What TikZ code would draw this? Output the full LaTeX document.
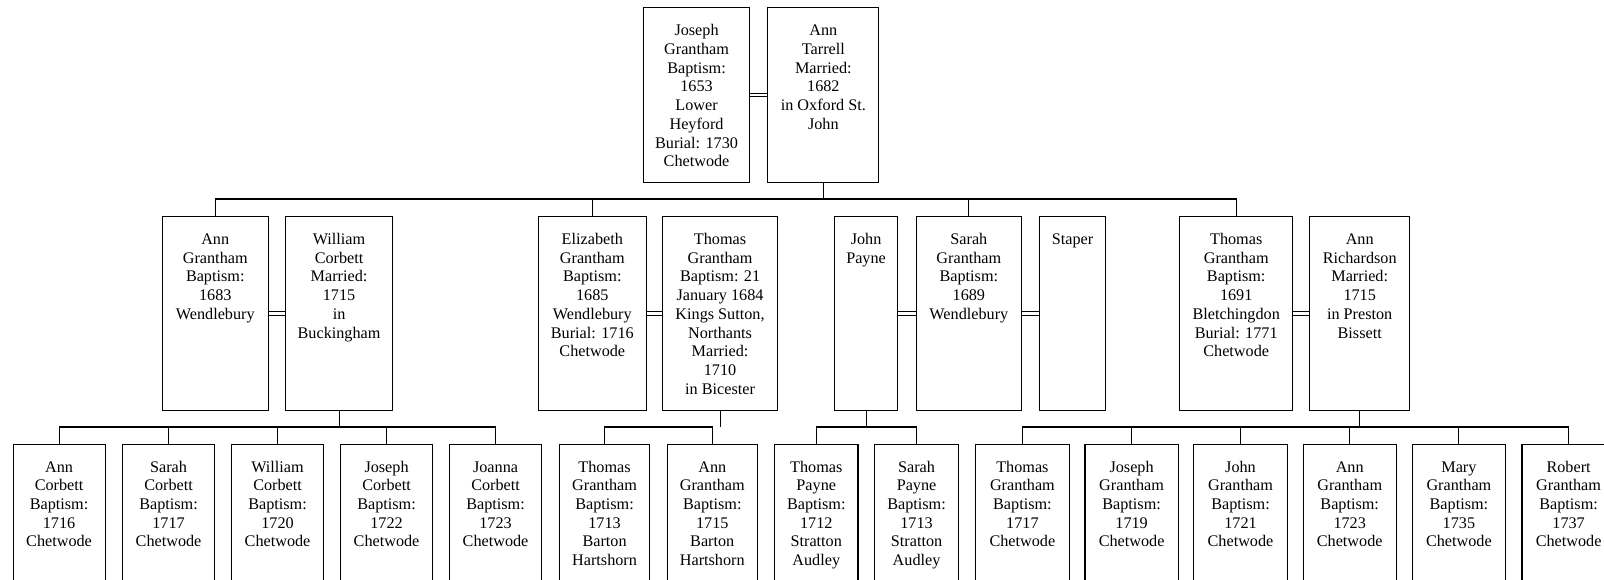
\documentclass[tikz,border=0pt]{standalone}
\usepackage{fontspec}
\setmainfont{Liberation Serif}

\tikzset{
  person/.style={draw, line width=1.1pt, inner sep=0pt, anchor=north west,
                 font=\fontsize{16.2}{18.7}\selectfont},
  link/.style={line width=1.1pt},
}

% person box: name, left, top, width, height, text (top-aligned, centred)
\newcommand{\famnode}[6]{%
  \node[person] (#1) at (#2,#3)
    {\parbox[c][#5pt][t]{#4pt}{\centering\vspace*{14.9pt}\strut #6}};}

% marriage link: double horizontal line between two boxes
\newcommand{\wed}[2]{%
  \draw[link] ([yshift=1.75pt]#1.east) -- ([yshift=1.75pt]#2.west)
              ([yshift=-1.75pt]#1.east) -- ([yshift=-1.75pt]#2.west);}

\begin{document}
\begin{tikzpicture}[x=1pt,y=-1pt]
\useasboundingbox (0,0) rectangle (1604,580);
\fill[white] (0,0) rectangle (1604,580);
\clip (0,0) rectangle (1604,580);

% generation 1
\famnode{jg}{642.7}{7.3}{106.6}{174.7}{Joseph\\Grantham\\Baptism:\\1653\\Lower\\Heyford\\Burial: 1730\\Chetwode}
\famnode{at}{767.3}{7.3}{111}{174.7}{Ann\\Tarrell\\Married:\\1682\\in Oxford St.\\John}
\wed{jg}{at}

% generation 2
\famnode{ag}{161.7}{216}{106}{194}{Ann\\Grantham\\Baptism:\\1683\\Wendlebury}
\famnode{wc}{284.7}{216}{107.6}{194}{William\\Corbett\\Married:\\1715\\in\\Buckingham}
\famnode{eg}{538}{216}{107.5}{194}{Elizabeth\\Grantham\\Baptism:\\1685\\Wendlebury\\Burial: 1716\\Chetwode}
\famnode{tga}{662}{216}{115}{194}{Thomas\\Grantham\\Baptism: 21\\January 1684\\Kings Sutton,\\Northants\\Married:\\1710\\in Bicester}
\famnode{jp}{834}{216}{63}{194}{John\\Payne}
\famnode{sg}{915.6}{216}{105.4}{194}{Sarah\\Grantham\\Baptism:\\1689\\Wendlebury}
\famnode{st}{1039}{216}{66}{194}{Staper}
\famnode{tgb}{1179.3}{216}{112.7}{194}{Thomas\\Grantham\\Baptism:\\1691\\Bletchingdon\\Burial: 1771\\Chetwode}
\famnode{ar}{1309.3}{216}{99.7}{194}{Ann\\Richardson\\Married:\\1715\\in Preston\\Bissett}
\wed{ag}{wc}
\wed{eg}{tga}
\wed{jp}{sg}
\wed{sg}{st}
\wed{tgb}{ar}

% generation 3
\famnode{c1}{12.5}{443.5}{92}{150}{Ann\\Corbett\\Baptism:\\1716\\Chetwode}
\famnode{c2}{122}{443.5}{92}{150}{Sarah\\Corbett\\Baptism:\\1717\\Chetwode}
\famnode{c3}{231}{443.5}{92}{150}{William\\Corbett\\Baptism:\\1720\\Chetwode}
\famnode{c4}{340}{443.5}{92}{150}{Joseph\\Corbett\\Baptism:\\1722\\Chetwode}
\famnode{c5}{449}{443.5}{92}{150}{Joanna\\Corbett\\Baptism:\\1723\\Chetwode}
\famnode{g1}{559}{443.5}{90}{150}{Thomas\\Grantham\\Baptism:\\1713\\Barton\\Hartshorn}
\famnode{g2}{666.7}{443.5}{90}{150}{Ann\\Grantham\\Baptism:\\1715\\Barton\\Hartshorn}
\famnode{p1}{774}{443.5}{83.4}{150}{Thomas\\Payne\\Baptism:\\1712\\Stratton\\Audley}
\famnode{p2}{874.3}{443.5}{83.4}{150}{Sarah\\Payne\\Baptism:\\1713\\Stratton\\Audley}
\famnode{h1}{975.2}{443.5}{93.3}{150}{Thomas\\Grantham\\Baptism:\\1717\\Chetwode}
\famnode{h2}{1084.4}{443.5}{93.3}{150}{Joseph\\Grantham\\Baptism:\\1719\\Chetwode}
\famnode{h3}{1193.3}{443.5}{93.3}{150}{John\\Grantham\\Baptism:\\1721\\Chetwode}
\famnode{h4}{1302.5}{443.5}{93.3}{150}{Ann\\Grantham\\Baptism:\\1723\\Chetwode}
\famnode{h5}{1411.7}{443.5}{93.3}{150}{Mary\\Grantham\\Baptism:\\1735\\Chetwode}
\famnode{h6}{1521.4}{443.5}{93.3}{150}{Robert\\Grantham\\Baptism:\\1737\\Chetwode}

% descent lines
\coordinate (busA) at (0,199);
\coordinate (busB) at (0,427);

\draw[link] (at.south) -- (at.south |- busA);
\draw[link] (ag.north) -- (ag.north |- busA) -- (tgb.north |- busA) -- (tgb.north);
\draw[link] (eg.north) -- (eg.north |- busA);
\draw[link] (sg.north) -- (sg.north |- busA);

\draw[link] (wc.south) -- (wc.south |- busB);
\draw[link] (c1.north) -- (c1.north |- busB) -- (c5.north |- busB) -- (c5.north);
\foreach \k in {c2,c3,c4} \draw[link] (\k.north) -- (\k.north |- busB);

\draw[link] (tga.south) -- (tga.south |- busB);
\draw[link] (g1.north) -- (g1.north |- busB) -- (g2.north |- busB) -- (g2.north);

\draw[link] (jp.south) -- (jp.south |- busB);
\draw[link] (p1.north) -- (p1.north |- busB) -- (p2.north |- busB) -- (p2.north);

\draw[link] (ar.south) -- (ar.south |- busB);
\draw[link] (h1.north) -- (h1.north |- busB) -- (h6.north |- busB) -- (h6.north);
\foreach \k in {h2,h3,h4,h5} \draw[link] (\k.north) -- (\k.north |- busB);
\end{tikzpicture}
\end{document}
